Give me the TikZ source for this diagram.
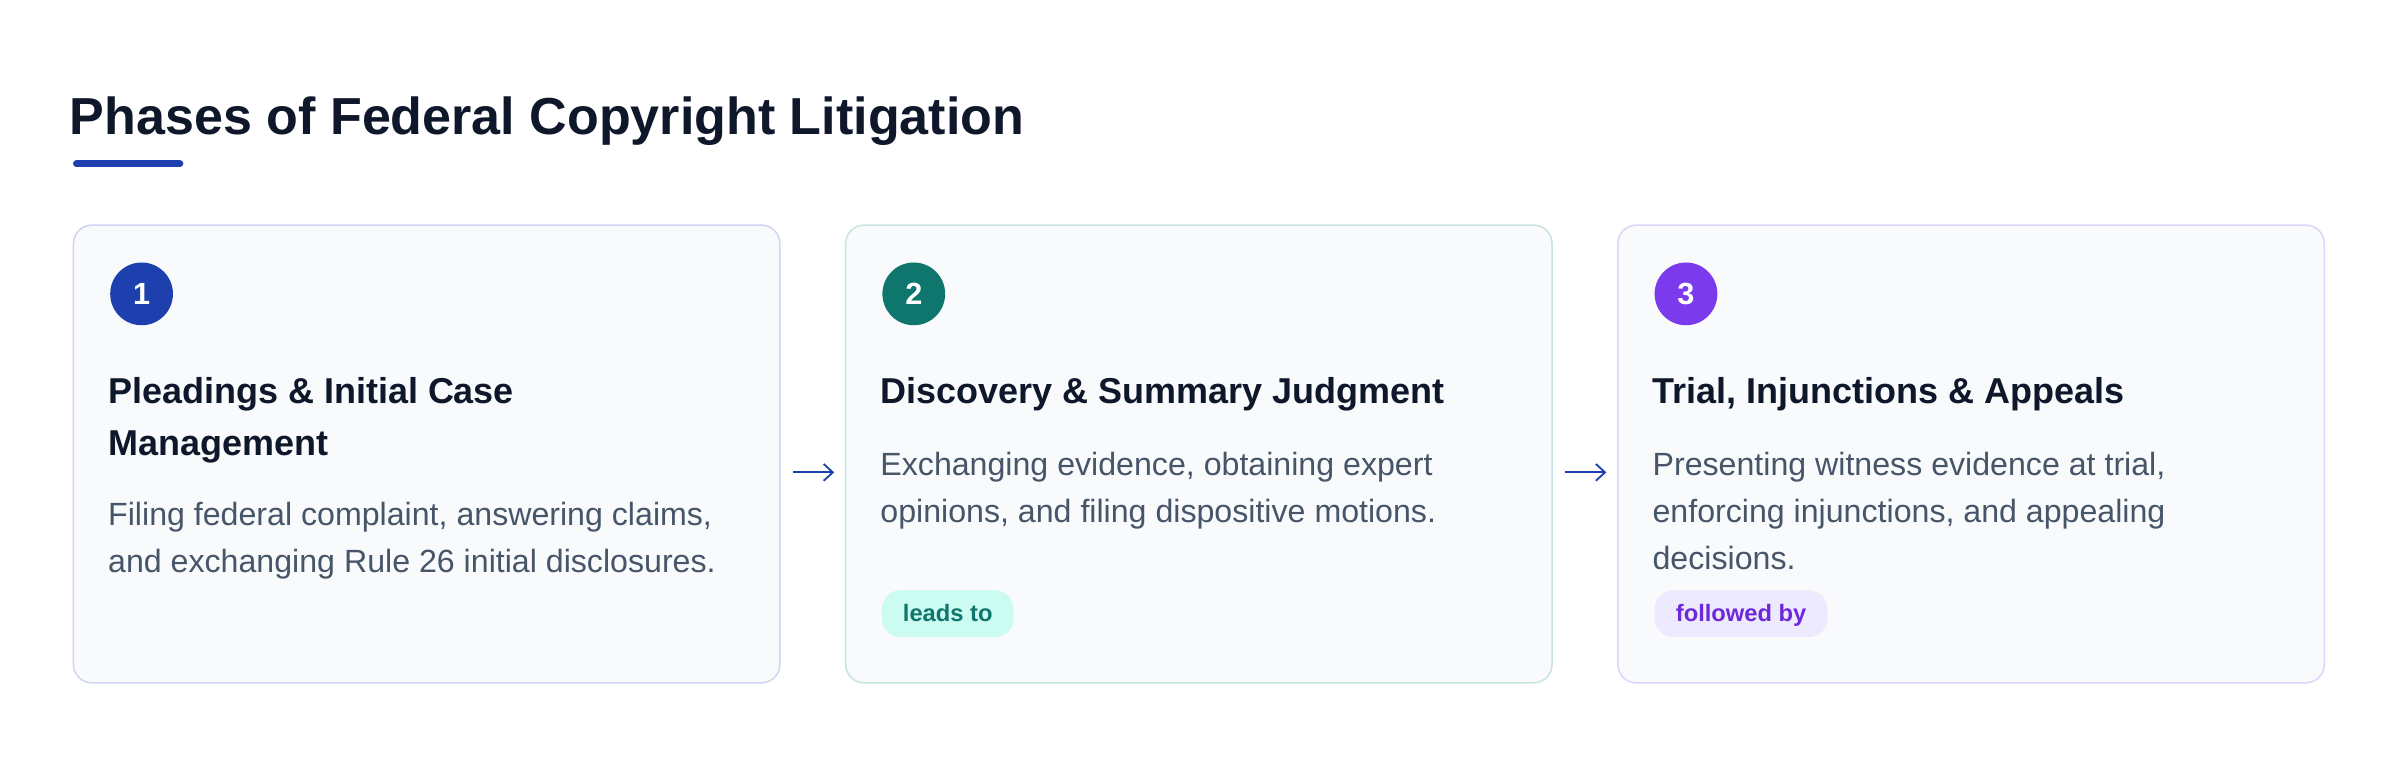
\documentclass[tikz,border=0pt]{standalone}
\usepackage{fontspec}
\setmainfont{Liberation Sans}
\usetikzlibrary{arrows.meta}

\definecolor{titlecol}{HTML}{0F172A}
\definecolor{bodycol}{HTML}{475569}
\definecolor{bluecol}{HTML}{1E40AF}
\definecolor{tealcol}{HTML}{0F766E}
\definecolor{purplecol}{HTML}{7C3AED}
\definecolor{cardfill}{HTML}{F8FAFC}
\definecolor{borderA}{HTML}{D0D6F2}
\definecolor{borderB}{HTML}{C9E4E0}
\definecolor{borderC}{HTML}{DDD3FB}
\definecolor{tealbg}{HTML}{CCFBF1}
\definecolor{purplebg}{HTML}{EDE9FE}
\definecolor{purpletext}{HTML}{6D28D9}

\newcommand{\cardlines}[1]{\begin{tabular}[t]{@{}l@{}}#1\end{tabular}}

\tikzset{
  card/.style={draw, fill=cardfill, line width=1pt, rounded corners=12pt,
    minimum width=461.5pt, minimum height=299pt, inner sep=0pt, anchor=north west},
  numdot/.style={circle, minimum size=41pt, inner sep=0pt, text=white,
    font=\fontsize{20}{24}\selectfont\bfseries},
  heading/.style={anchor=base west, inner sep=0pt, text=titlecol,
    font=\fontsize{23.5}{34}\selectfont\bfseries},
  bodytext/.style={anchor=base west, inner sep=0pt, text=bodycol,
    font=\fontsize{21}{31}\selectfont},
  badge/.style={anchor=north west, rounded corners=12pt, inner xsep=13.7pt,
    inner ysep=6.6pt, text height=14pt, text depth=3.3pt,
    font=\fontsize{15.5}{18}\selectfont\bfseries},
  flowarrow/.style={draw=bluecol, line width=1.2pt,
    -{Straight Barb[length=6pt,width=11pt]}, shorten <=8pt, shorten >=7pt}
}

\begin{document}
\begin{tikzpicture}[x=1pt,y=-1pt]
\useasboundingbox[fill=white] (0,0) rectangle (1568,494);

\node[anchor=base west, inner sep=0pt, text=titlecol,
  font=\fontsize{34}{40}\selectfont\bfseries] (title) at (45.5,88.2)
  {Phases of Federal Copyright Litigation};
\draw[bluecol, line width=4.6pt, line cap=round] (50,107) -- (117.5,107);

\foreach \i/\bc/\dc in {1/borderA/bluecol, 2/borderB/tealcol, 3/borderC/purplecol} {
  \node[card, draw=\bc] (card\i) at ({47.5+504.5*(\i-1)},146.6) {};
  \node[numdot, fill=\dc] (num\i) at ({92.5+504.5*(\i-1)},192) {\i};
}

\node[heading] (head1) at (70.5,263.5) {\cardlines{Pleadings \& Initial Case\\Management}};
\node[bodytext] (body1) at (70.5,343) {\cardlines{Filing federal complaint, answering claims,\\and exchanging Rule 26 initial disclosures.}};

\node[heading] (head2) at (575,263.5) {Discovery \& Summary Judgment};
\node[bodytext] (body2) at (575,310.4) {\cardlines{Exchanging evidence, obtaining expert\\opinions, and filing dispositive motions.}};
\node[badge, fill=tealbg, text=tealcol] (badge2) at (576,385.5) {leads to};

\node[heading] (head3) at (1079.5,263.5) {Trial, Injunctions \& Appeals};
\node[bodytext] (body3) at (1079.5,310.4) {\cardlines{Presenting witness evidence at trial,\\enforcing injunctions, and appealing\\decisions.}};
\node[badge, fill=purplebg, text=purpletext] (badge3) at (1081,385.5) {followed by};

\draw[flowarrow] ([yshift=-12pt]card1.east) -- ([yshift=-12pt]card2.west);
\draw[flowarrow] ([yshift=-12pt]card2.east) -- ([yshift=-12pt]card3.west);
\end{tikzpicture}
\end{document}
